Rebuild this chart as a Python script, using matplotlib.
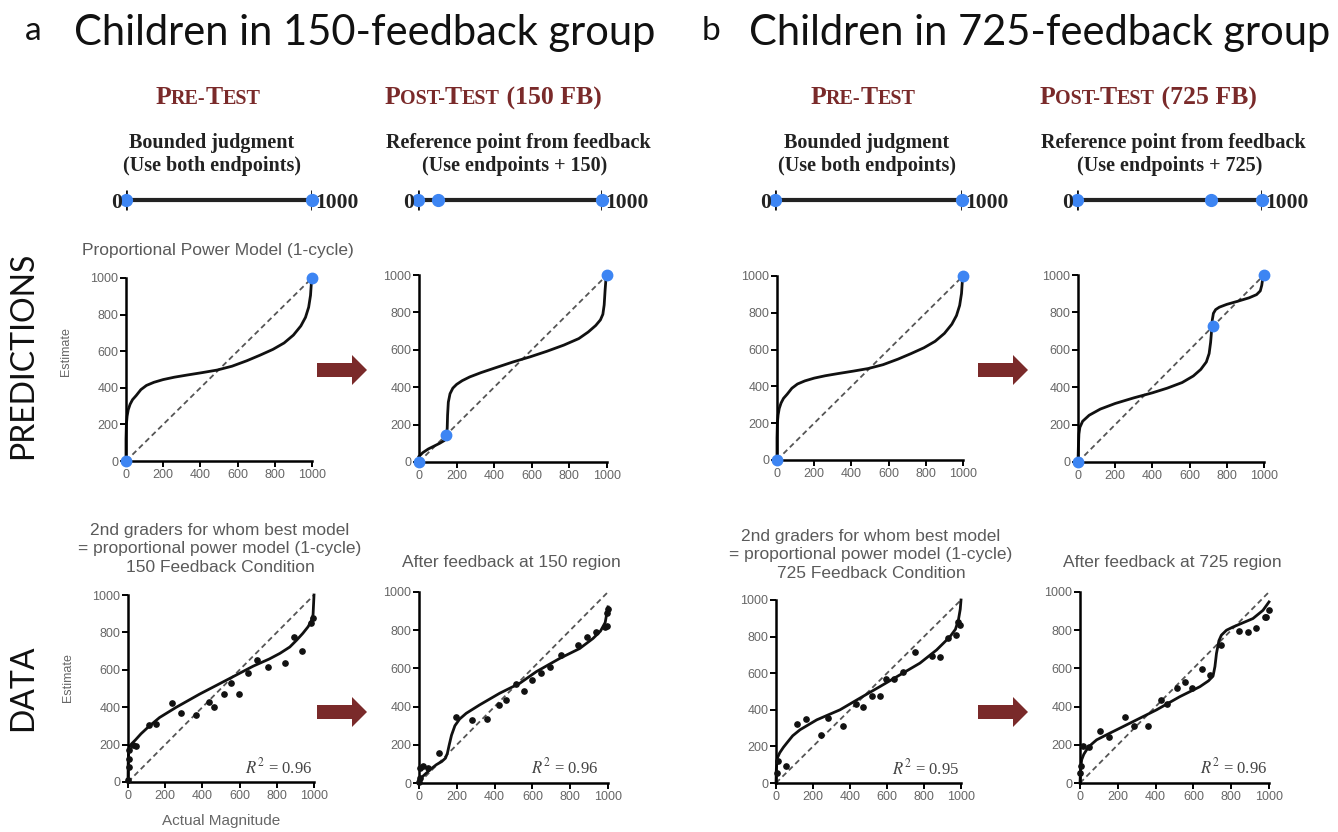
"""
Number-line estimation: proportional power model predictions (top row) and
2nd graders' estimates (bottom row), before and after feedback at 150 (a)
or at 725 (b).
Run:  python plot.py   -> out.png
"""
import matplotlib
matplotlib.use("Agg")
import matplotlib.pyplot as plt
from matplotlib.offsetbox import TextArea, HPacker, AnnotationBbox
from matplotlib.patches import FancyArrow

W, H = 1338, 832

# ------------------------------------------------------------------ data
TICKS = [0, 200, 400, 600, 800, 1000]
SCALE = [0, 1000]

# model predictions
pre_x = [0, 0, 2, 6, 12, 22, 35, 55, 80, 110, 150, 200, 260, 330, 410, 490,
         570, 650, 720, 790, 850, 900, 940, 965, 982, 992, 997]
pre_y = [0, 120, 200, 245, 280, 310, 335, 358, 390, 413, 430, 445, 458, 470,
         483, 497, 518, 548, 578, 610, 645, 688, 738, 785, 840, 905, 980]
post150_x = [0, 20, 50, 80, 110, 135, 145, 150, 152, 156, 165, 180, 200, 230,
             270, 330, 410, 500, 590, 680, 770, 850, 900, 940, 965, 978, 985,
             990, 996]
post150_y = [30, 50, 70, 85, 100, 115, 135, 180, 250, 320, 365, 395, 415, 435,
             455, 478, 505, 535, 562, 592, 625, 660, 695, 730, 760, 790, 840,
             920, 1000]
post725_x = [0, 2, 5, 10, 25, 60, 120, 200, 300, 400, 480, 560, 620, 660, 690,
             705, 713, 718, 722, 728, 740, 760, 800, 860, 920, 960, 980, 988,
             993, 996]
post725_y = [0, 80, 150, 185, 218, 250, 283, 313, 343, 370, 395, 425, 460, 495,
             535, 580, 640, 700, 760, 795, 815, 828, 843, 860, 878, 895, 915,
             945, 980, 1000]

# anchor points of the model (blue dots)
anch_pre = [0, 1000]
anch_150 = [0, 145, 1000]
anch_725 = [0, 725, 1000]
line_150 = [0, 110, 1000]   # reference point on the drawn number line

# children's median estimates and fitted curves
d150pre_x = [0, 3, 5, 8, 27, 45, 111, 152, 237, 283, 367, 434, 462, 516, 556,
             597, 645, 694, 755, 846, 891, 935, 986, 995]
d150pre_y = [10, 80, 125, 170, 196, 193, 304, 312, 420, 371, 357, 429, 402,
             470, 527, 470, 584, 652, 616, 639, 777, 702, 848, 875]
f150pre_x = [0, 1, 3, 8, 20, 40, 70, 110, 170, 260, 385, 530, 674, 760, 817,
             870, 907, 940, 968, 985, 995, 1000]
f150pre_y = [0, 100, 160, 190, 205, 225, 258, 295, 345, 400, 470, 545, 620,
             658, 688, 722, 759, 795, 830, 860, 895, 1000]

d150post_x = [0, 4, 7, 21, 48, 106, 198, 282, 362, 422, 462, 511, 556, 600,
              647, 691, 750, 840, 891, 935, 982, 996, 995, 1000]
d150post_y = [5, 26, 78, 87, 78, 157, 348, 330, 334, 409, 435, 517, 483, 539,
              577, 609, 670, 722, 765, 791, 817, 821, 890, 913]
f150post_x = [0, 20, 39, 65, 92, 120, 140, 150, 160, 172, 190, 215, 250, 321,
              427, 533, 621, 744, 850, 921, 960, 985, 1000]
f150post_y = [17, 35, 52, 75, 96, 112, 130, 155, 200, 250, 300, 335, 365, 409,
              470, 522, 583, 652, 704, 757, 795, 840, 922]

d725pre_x = [4, 9, 54, 112, 162, 243, 283, 364, 431, 468, 517, 562, 593, 640,
             688, 751, 841, 886, 932, 973, 986, 996]
d725pre_y = [55, 118, 95, 324, 349, 264, 355, 309, 431, 418, 473, 473, 567,
             567, 604, 718, 695, 691, 791, 809, 882, 864]
f725pre_x = [0, 2, 7, 20, 40, 58, 90, 130, 220, 346, 454, 562, 670, 778, 868,
             941, 970, 986, 996, 1000]
f725pre_y = [0, 80, 136, 165, 195, 218, 258, 291, 345, 400, 464, 527, 591,
             655, 727, 800, 840, 891, 950, 1000]

d725post_x = [0, 5, 14, 49, 106, 155, 238, 287, 361, 431, 458, 511, 555, 595,
              643, 690, 748, 842, 889, 933, 977, 986, 1000]
d725post_y = [52, 87, 195, 186, 270, 243, 348, 296, 296, 435, 412, 496, 530,
              496, 595, 565, 722, 795, 791, 814, 870, 870, 904]
f725post_x = [0, 3, 9, 20, 35, 60, 88, 158, 282, 405, 528, 634, 680, 704, 714,
              722, 735, 748, 775, 810, 860, 915, 968, 1000]
f725post_y = [0, 70, 122, 150, 174, 202, 226, 261, 322, 383, 452, 504, 535,
              560, 610, 678, 745, 774, 800, 817, 838, 861, 904, 948]

r2 = ["0.96", "0.96", "0.95", "0.96"]

# ------------------------------------------------------------------ style
RED = "#7a2a2a"
BLUE = "#3d85f3"
GREY = "#5a5a5a"
SERIF = "Liberation Serif"
plt.rcParams["font.family"] = ["Liberation Sans", "DejaVu Sans"]
plt.rcParams["mathtext.fontset"] = "stix"

fig = plt.figure(figsize=(W / 100, H / 100), dpi=100, facecolor="white")
bg = fig.add_axes([0, 0, 1, 1])
bg.set_xlim(0, W); bg.set_ylim(H, 0); bg.axis("off")


def px_box(x0, y0, x1, y1):
    return [x0 / W, 1 - y1 / H, (x1 - x0) / W, (y1 - y0) / H]


def graph(x0, y0, x1, y1):
    ax = fig.add_axes(px_box(x0, y0, x1, y1))
    ax.set_xlim(0, 1000); ax.set_ylim(0, 1000)
    ax.set_xticks(TICKS); ax.set_yticks(TICKS)
    ax.spines[["top", "right"]].set_visible(False)
    ax.spines[["left", "bottom"]].set_linewidth(1.8)
    ax.tick_params(length=4, width=1.4, pad=1.5, labelsize=9, labelcolor="#666")
    ax.patch.set_visible(False)
    ax.plot(SCALE, SCALE, color="#555", lw=1.3, ls=(0, (3, 2)), zorder=1)
    return ax


def model(ax, x, y, anchors):
    ax.plot(x, y, color="#111", lw=2, clip_on=False, zorder=2,
            solid_joinstyle="round")
    ax.plot(anchors, anchors, "o", color=BLUE, ms=7.5, clip_on=False, zorder=4)


def data(ax, dx, dy, fx, fy, r2txt, rx=0.99):
    ax.plot(dx, dy, "o", color="#111", ms=3.8, clip_on=False, zorder=3)
    ax.plot(fx, fy, color="#111", lw=2, clip_on=False, zorder=2,
            solid_joinstyle="round")
    ax.text(rx, 0.08, r"$R^2$ = " + r2txt, transform=ax.transAxes, ha="right",
            va="center", family=SERIF, fontsize=12, color="#444")


def number_line(x0, x1, marks):
    ax = fig.add_axes(px_box(x0, 188, x1, 212))
    ax.set_xlim(0, 1000); ax.set_ylim(-1, 1); ax.axis("off")
    ax.plot(SCALE, [0, 0], color="#222", lw=3, solid_capstyle="butt")
    ax.vlines(SCALE, -0.85, 0.85, color="#111", lw=2)
    ax.plot(marks, [0] * len(marks), "o", color=BLUE, ms=8.5, clip_on=False,
            zorder=3)
    kw = dict(textcoords="offset points", va="center_baseline", family=SERIF,
              fontsize=15.5, weight="bold", color="#222")
    ax.annotate("0", (0, 0), xytext=(-3, 0), ha="right", **kw)
    ax.annotate("1000", (1000, 0), xytext=(2, 0), ha="left", **kw)


def small_caps(x, y, parts):
    kids = [TextArea(t, textprops=dict(fontsize=18.5 if big else 14.5,
                                       family=SERIF, weight="bold", color=RED))
            for t, big in parts]
    box = HPacker(children=kids, align="baseline", pad=0, sep=0)
    bg.add_artist(AnnotationBbox(box, (x, y), frameon=False,
                                 box_alignment=(0.5, 0.5)))


def block_arrow(x, y):
    bg.add_patch(FancyArrow(x, y, 50, 0, width=14, head_width=30,
                            head_length=15, length_includes_head=True,
                            color=RED, lw=0))


# ------------------------------------------------------------------ headers
for letter, lx, title, tx, fb, cx in [("a", 33, "Children in 150-feedback group", 365, "150", 0),
                                      ("b", 711, "Children in 725-feedback group", 1040, "725", 655)]:
    bg.text(lx, 40, letter, ha="center", va="baseline", fontsize=24,
            family="Lato", color="#111")
    bg.text(tx, 45, title, ha="center", va="baseline", fontsize=30,
            family="Lato", color="#111")
    small_caps(208 + cx, 98, [("P", 1), ("RE-", 0), ("T", 1), ("EST", 0)])
    small_caps(493 + cx, 98, [("P", 1), ("OST-", 0), ("T", 1), ("EST", 0),
                              (f" ({fb} FB)", 1)])
    tk = dict(ha="center", va="center", family=SERIF, fontsize=14.5,
              weight="bold", color="#222")
    bg.text(212 + cx, 143, "Bounded judgment", **tk)
    bg.text(212 + cx, 166, "(Use both endpoints)", **tk)
    bg.text(518 + cx, 143, "Reference point from feedback", **tk)
    bg.text(515 + cx, 166, f"(Use endpoints + {fb})", **tk)

number_line(126, 312, anch_pre)
number_line(418, 602, line_150)
number_line(775, 962, anch_pre)
number_line(1077, 1262, anch_725)

# row labels
rk = dict(rotation=90, ha="center", va="center", fontsize=23, family="Lato",
          color="#111")
bg.text(23, 355, "PREDICTIONS", **rk)
bg.text(23, 688, "DATA", **rk)

# panel titles
st = dict(ha="center", va="center", fontsize=12.5, color=GREY)
bg.text(218, 250, "Proportional Power Model (1-cycle)", **st)
bg.text(220, 549, "2nd graders for whom best model\n"
        "= proportional power model (1-cycle)\n150 Feedback Condition",
        linespacing=1.3, **st)
bg.text(871, 555, "2nd graders for whom best model\n"
        "= proportional power model (1-cycle)\n725 Feedback Condition",
        linespacing=1.3, **st)
bg.text(511, 563, "After feedback at 150 region", **st)
bg.text(1172, 563, "After feedback at 725 region", **st)

for ax_x, ax_y in [(317, 370), (978, 370), (317, 712), (978, 712)]:
    block_arrow(ax_x, ax_y)

# ------------------------------------------------------------------ graphs
ax1 = graph(126, 278, 312, 461)
model(ax1, pre_x, pre_y, anch_pre)
ax2 = graph(419, 275, 607, 462)
model(ax2, post150_x, post150_y, anch_150)
ax3 = graph(777, 276, 963, 460)
model(ax3, pre_x, pre_y, anch_pre)
ax4 = graph(1078, 275, 1264, 462)
model(ax4, post725_x, post725_y, anch_725)

ax5 = graph(128, 595, 314, 782)
data(ax5, d150pre_x, d150pre_y, f150pre_x, f150pre_y, r2[0])
ax6 = graph(419, 592, 608, 783)
data(ax6, d150post_x, d150post_y, f150post_x, f150post_y, r2[1], rx=0.95)
ax7 = graph(776, 600, 961, 783)
data(ax7, d725pre_x, d725pre_y, f725pre_x, f725pre_y, r2[2])
ax8 = graph(1080, 592, 1269, 783)
data(ax8, d725post_x, d725post_y, f725post_x, f725post_y, r2[3])

for ax, yl in [(ax1, 0.6), (ax5, 0.56)]:
    ax.set_ylabel("Estimate", fontsize=9, color="#666")
    ax.yaxis.set_label_coords(-0.29, yl)
ax5.set_xlabel("Actual Magnitude", fontsize=11, color="#666", labelpad=9)

fig.savefig("out.png", dpi=100, facecolor="white")
